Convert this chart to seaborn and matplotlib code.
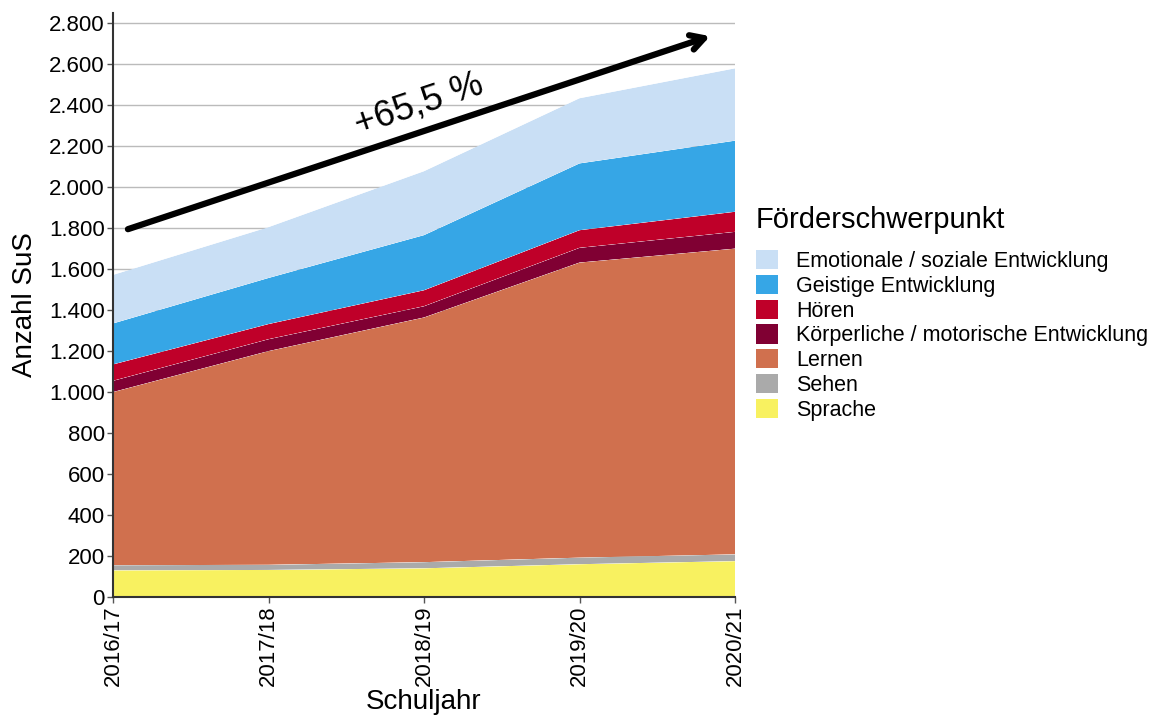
import numpy as np
import pandas as pd
import matplotlib
matplotlib.use("Agg")
import matplotlib.pyplot as plt
import seaborn as sns
import seaborn.objects as so
from matplotlib.patches import Patch

years = ["2016/17", "2017/18", "2018/19", "2019/20", "2020/21"]
sprache = [130, 132, 140, 160, 175]
sehen = [25, 25, 30, 32, 33]
lernen = [845, 1043, 1194, 1440, 1492]
koerper = [55, 58, 55, 72, 82]
hoeren = [80, 74, 78, 86, 98]
geistig = [200, 225, 269, 326, 347]
emotional = [237, 248, 312, 318, 353]

cats = ["Sprache", "Sehen", "Lernen", "Körperliche / motorische Entwicklung",
        "Hören", "Geistige Entwicklung", "Emotionale / soziale Entwicklung"]
series = [sprache, sehen, lernen, koerper, hoeren, geistig, emotional]
colors = ["#f8f160", "#aaaaaa", "#d0704e", "#800033", "#bf0029", "#36a6e6", "#c9dff5"]
palette = dict(zip(cats, colors))

rows = []
for c, vals in zip(cats, series):
    for i, v in enumerate(vals):
        rows.append({"x": i, "Anzahl": v, "Förderschwerpunkt": c})
df = pd.DataFrame(rows)

sns.set_theme(style="white")
plt.rcParams["font.family"] = ["Liberation Sans", "DejaVu Sans"]
plt.rcParams["text.color"] = "black"
plt.rcParams["axes.labelcolor"] = "black"
plt.rcParams["xtick.color"] = "black"
plt.rcParams["ytick.color"] = "black"

fig = plt.figure(figsize=(11.76, 7.28), dpi=100)
ax = fig.add_axes([113/1176, 1 - 597/728, (735-113)/1176, (597-13)/728])

(
    so.Plot(df, x="x", y="Anzahl", color="Förderschwerpunkt")
    .add(so.Area(alpha=1, edgewidth=0), so.Stack(), legend=False)
    .scale(color=so.Nominal(palette, order=cats))
    .on(ax)
    .plot()
)

ax.set_xlim(0, 4)
ax.set_ylim(0, 2850)
yt = np.arange(0, 2801, 200)
ax.set_yticks(yt)
ax.set_yticklabels([f"{v:,}".replace(",", ".") for v in yt], fontsize=16)
ax.set_xticks(range(len(years)))
ax.set_xticklabels(years, rotation=90, fontsize=16)
ax.yaxis.grid(True, color="#bbbbbb", linewidth=1)
ax.xaxis.grid(False)
ax.set_axisbelow(True)
for s in ["top", "right"]:
    ax.spines[s].set_visible(False)
for s in ["left", "bottom"]:
    ax.spines[s].set_color("#333333")
    ax.spines[s].set_linewidth(1.5)
ax.tick_params(axis="both", which="both", direction="out", length=4, width=1,
               color="#555555", labelcolor="black", bottom=True, left=True, pad=2)
ax.set_xlabel("Schuljahr", fontsize=20, labelpad=2, color="black")
ax.set_ylabel("Anzahl SuS", fontsize=20, labelpad=8, color="black")

ax.annotate("", xy=(3.84, 2737), xytext=(0.096, 1795),
            arrowprops=dict(arrowstyle="->,head_length=0.8,head_width=0.45",
                            lw=4.5, color="black", shrinkA=0, shrinkB=0))
ax.text(1.97, 2405, "+65,5 %", rotation=18.5, fontsize=26, ha="center", va="center",
        rotation_mode="anchor", color="black")

handles = [Patch(facecolor=palette[c], edgecolor="none") for c in cats[::-1]]
leg = fig.legend(handles, cats[::-1], title="Förderschwerpunkt",
                 loc="upper left", bbox_to_anchor=(756/1176, 1 - 206/728),
                 frameon=False, fontsize=15.5, title_fontsize=21,
                 handlelength=1.0, handleheight=1.0, handletextpad=0.85,
                 labelspacing=0.13, borderpad=0, borderaxespad=0, alignment="left")
leg._legend_box.sep = 11.5
for t in leg.get_texts():
    t.set_color("black")
leg.get_title().set_color("black")

fig.savefig("out.png", dpi=100)
